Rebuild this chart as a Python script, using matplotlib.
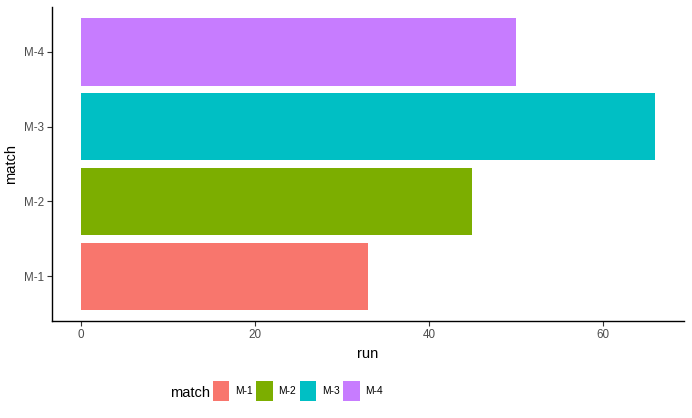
import matplotlib.pyplot as plt
from matplotlib.patches import Patch

matches = ['M-1', 'M-2', 'M-3', 'M-4']
runs = [33, 45, 66, 50]
colors = ['#F8766D', '#7CAE00', '#00BFC4', '#C77CFF']
x_ticks = [0, 20, 40, 60]

plt.rcParams['font.family'] = ['Liberation Sans', 'DejaVu Sans']

fig = plt.figure(figsize=(6.92, 4.18), dpi=100)
ax = fig.add_axes([52 / 692, 97 / 418, 632 / 692, 314 / 418])

ypos = list(range(len(matches)))
ax.barh(ypos, runs, height=0.9, color=colors)

ax.set_xlim(-0.05 * max(runs), 1.05 * max(runs))
ax.set_ylim(-0.6, len(matches) - 0.4)
ax.set_yticks(ypos)
ax.set_yticklabels(matches)
ax.set_xticks(x_ticks)

for side in ['top', 'right']:
    ax.spines[side].set_visible(False)
for side in ['left', 'bottom']:
    ax.spines[side].set_linewidth(1.0)
    ax.spines[side].set_color('black')

ax.tick_params(axis='both', labelsize=8.4, labelcolor='#4D4D4D', length=3.5, width=0.8, color='#333333', pad=2.5)
ax.set_xlabel('run', fontsize=10.5, labelpad=4)
ax.set_ylabel('match', fontsize=10.5, labelpad=4)

# legend at the bottom, title drawn separately to its left
handles = [Patch(facecolor=c, edgecolor='none') for c in colors]
fig.legend(handles, matches, loc='center left', bbox_to_anchor=(213 / 692, 1 - 391 / 418),
           ncol=4, frameon=False, fontsize=7.4, handlelength=1.6, handleheight=2.75,
           handletextpad=0.55, columnspacing=0.35, borderpad=0, borderaxespad=0)
fig.text(190 / 692, 1 - 393 / 418, 'match', fontsize=10.5, ha='center', va='center')

fig.savefig('out.png', dpi=100)
